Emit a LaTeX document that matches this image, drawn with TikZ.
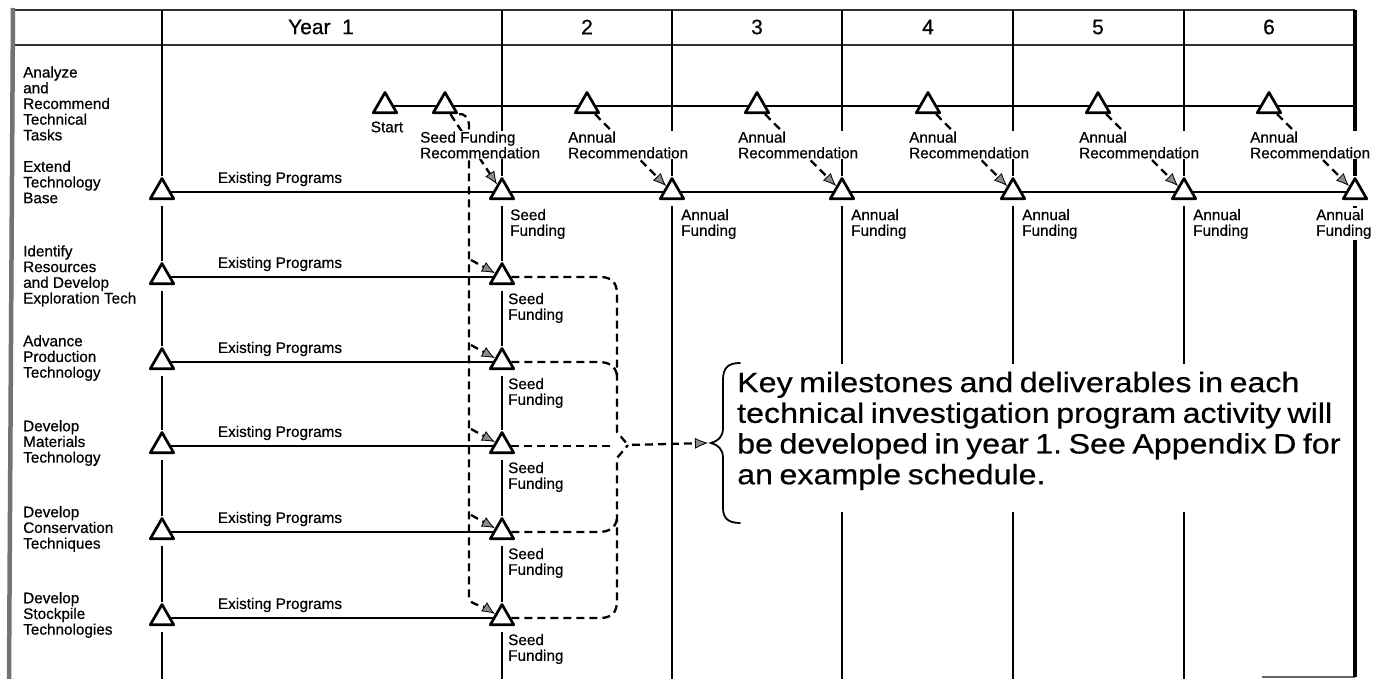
\documentclass[tikz,border=0pt]{standalone}
\usepackage{fontspec}
\setmainfont[FakeBold=0.4]{Liberation Sans}
\newfontfamily\lblfont[FakeBold=0.5]{Liberation Sans}
\newfontfamily\widefont[FakeStretch=1.15,FakeBold=0.5]{Liberation Sans}
\newcommand\notespacing{\spaceskip 6.5pt\relax}
\usetikzlibrary{shapes.geometric,arrows.meta}
\frenchspacing
\begin{document}
\begin{tikzpicture}[x=1pt,y=1pt,
  tri/.style={regular polygon, regular polygon sides=3, minimum size=27pt, inner sep=0pt, draw, line width=2.7pt, line join=round, fill=white},
  gline/.style={line width=2.2pt},
  bord/.style={line width=3.4pt},
  frm/.style={line width=2.8pt, black!80},
  lborder/.style={line width=4.5pt, black!55},
  dsh/.style={line width=2.3pt, dash pattern=on 8pt off 5pt},
  ahead/.style={-{Latex[length=13pt,width=11pt,fill=black!45,line width=0.8pt]}},
  lbl/.style={font=\lblfont\fontsize{15.3}{15.7}\selectfont, align=left, inner sep=1pt, fill=white},
  hdr/.style={font=\lblfont\fontsize{21}{24}\selectfont, inner sep=0pt},
  notebox/.style={font=\widefont\fontsize{28}{30.7}\selectfont\notespacing, align=left, fill=white, inner xsep=0pt, inner ysep=8pt}
]
\fill[white] (0,0) rectangle (1379,-679);
\useasboundingbox (0,0) rectangle (1379,-679);

% ---- triangles row 1 (recommendations)
\node[tri] (start) at (385,-106) {};
\node[tri] (srec) at (445,-106) {};
\node[tri] (rec2) at (587,-106) {};
\node[tri] (rec3) at (757,-106) {};
\node[tri] (rec4) at (928,-106) {};
\node[tri] (rec5) at (1098,-106) {};
\node[tri] (rec6) at (1269,-106) {};
% ---- row 2 (funding)
\node[tri] (e2) at (162,-192) {};
\node[tri] (fa) at (502,-192) {};
\node[tri] (fb) at (672,-192) {};
\node[tri] (fc) at (842,-192) {};
\node[tri] (fd) at (1013,-192) {};
\node[tri] (fe) at (1184,-192) {};
\node[tri] (ff) at (1355,-192) {};
% ---- rows 3-7
\node[tri] (e3) at (162,-277) {};
\node[tri] (s3) at (502,-277) {};
\node[tri] (e4) at (162,-362) {};
\node[tri] (s4) at (502,-362) {};
\node[tri] (e5) at (162,-446) {};
\node[tri] (s5) at (502,-446) {};
\node[tri] (e6) at (162,-532) {};
\node[tri] (s6) at (502,-532) {};
\node[tri] (e7) at (162,-618) {};
\node[tri] (s7) at (502,-618) {};

% ---- coordinates
\coordinate (topL) at (162,-10);  \coordinate (botL) at (162,-679);
\coordinate (topA) at (502,-10);  \coordinate (botA) at (502,-679);
\coordinate (topB) at (672,-10);  \coordinate (botB) at (672,-679);
\coordinate (topC) at (842,-10);  \coordinate (botC) at (842,-679);
\coordinate (topD) at (1013,-10); \coordinate (botD) at (1013,-679);
\coordinate (topE) at (1184,-10); \coordinate (botE) at (1184,-679);
\coordinate (topF) at (1355,-10); \coordinate (botF) at (1355,-677);
\coordinate (r1end) at (1355,-106);

% ---- frame
\draw[frm] (12,-10) -- (1355,-10);
\draw[frm] (12,-45) -- (1355,-45);
\draw[lborder] (13,-8) -- (9,-679);
\draw[line width=2pt, black!60] (1262,-677) -- (1355,-677);

% ---- verticals
\draw[gline] (topL) -- (e2);
\draw[gline, shorten <=6pt] (e2) -- (e3);
\draw[gline, shorten <=6pt] (e3) -- (e4);
\draw[gline, shorten <=6pt] (e4) -- (e5);
\draw[gline, shorten <=6pt] (e5) -- (e6);
\draw[gline, shorten <=6pt] (e6) -- (e7);
\draw[gline, shorten <=6pt] (e7) -- (botL);
\draw[gline] (topA) -- (fa);
\draw[gline, shorten <=6pt] (fa) -- (s3);
\draw[gline, shorten <=6pt] (s3) -- (s4);
\draw[gline, shorten <=6pt] (s4) -- (s5);
\draw[gline, shorten <=6pt] (s5) -- (s6);
\draw[gline, shorten <=6pt] (s6) -- (s7);
\draw[gline, shorten <=6pt] (s7) -- (botA);
\draw[gline] (topB) -- (fb);  \draw[gline, shorten <=6pt] (fb) -- (botB);
\draw[gline] (topC) -- (fc);  \draw[gline, shorten <=6pt] (fc) -- (botC);
\draw[gline] (topD) -- (fd);  \draw[gline, shorten <=6pt] (fd) -- (botD);
\draw[gline] (topE) -- (fe);  \draw[gline, shorten <=6pt] (fe) -- (botE);
\draw[bord] (topF) -- (ff);   \draw[bord, shorten <=6pt] (ff) -- (botF);

% ---- horizontals
\draw[gline] (start) -- (srec) -- (rec2) -- (rec3) -- (rec4) -- (rec5) -- (rec6) -- (r1end);
\draw[gline] (e2) -- (fa) -- (fb) -- (fc) -- (fd) -- (fe) -- (ff);
\draw[gline] (e3) -- (s3);
\draw[gline] (e4) -- (s4);
\draw[gline] (e5) -- (s5);
\draw[gline] (e6) -- (s6);
\draw[gline] (e7) -- (s7);

% ---- dashed arrows row 1 -> row 2
\draw[dsh, ahead] (srec) -- (fa);
\draw[dsh, ahead] (rec2) -- (fb);
\draw[dsh, ahead] (rec3) -- (fc);
\draw[dsh, ahead] (rec4) -- (fd);
\draw[dsh, ahead] (rec5) -- (fe);
\draw[dsh, ahead] (rec6) -- (ff);

% ---- seed funding distribution
\coordinate (vtop) at (469,-126);
\coordinate (vbot) at (469,-598);
\draw[dsh, ahead] (srec.corner 3) .. controls (463,-113) and (469,-117) .. (vtop) -- (vbot) .. controls (469,-604) and (483,-606) .. (s7.side 1);
\coordinate (v3) at (471,-260);
\coordinate (v4) at (471,-345);
\coordinate (v5) at (471,-429);
\coordinate (v6) at (471,-515);
\draw[dsh, ahead] (v3) -- (s3);
\draw[dsh, ahead] (v4) -- (s4);
\draw[dsh, ahead] (v5) -- (s5);
\draw[dsh, ahead] (v6) -- (s6);

% ---- dashed brace on the right of seed funding
\coordinate (dtip) at (628,-445);
\coordinate (btip) at (708,-443);
\draw[dsh] (s3) -- (600,-277) .. controls (611,-277) and (617,-282) .. (617,-294) -- (617,-432) -- (dtip);
\draw[dsh] (s7) -- (600,-618) .. controls (611,-618) and (617,-613) .. (617,-601) -- (617,-458) -- (dtip);
\draw[dsh] (s4) -- (598,-362) .. controls (609,-362) and (616,-366) .. (617,-376);
\draw[dsh] (s6) -- (598,-532) .. controls (609,-532) and (616,-528) .. (617,-518);
\draw[dsh] (s5) -- (610,-446);
\draw[dsh, ahead, shorten <=4pt] (dtip) -- (btip);

% ---- text brace
\draw[line width=1.8pt, line cap=round] (740,-363) .. controls (728,-363) and (723,-368) .. (723,-380) -- (723,-428) .. controls (723,-437) and (718,-441) .. (711,-443) .. controls (718,-445) and (723,-449) .. (723,-458) -- (723,-508) .. controls (723,-518) and (728,-523) .. (740,-523);

% ---- header texts
\node[hdr] (h1) at (321,-27) {Year\ \ 1};
\node[hdr] (h2) at (587,-27) {2};
\node[hdr] (h3) at (757,-27) {3};
\node[hdr] (h4) at (928,-27) {4};
\node[hdr] (h5) at (1098,-27) {5};
\node[hdr] (h6) at (1269,-27) {6};

% ---- row labels
\node[lbl, anchor=west] (l1) at (22,-103.5) {Analyze\\and\\Recommend\\Technical\\Tasks};
\node[lbl, anchor=west] (l2) at (22,-182) {Extend\\Technology\\Base};
\node[lbl, anchor=west] (l3) at (22,-276) {Identify\\Resources\\and Develop\\Exploration Tech};
\node[lbl, anchor=west] (l4) at (22,-358) {Advance\\Production\\Technology};
\node[lbl, anchor=west] (l5) at (22,-443) {Develop\\Materials\\Technology};
\node[lbl, anchor=west] (l6) at (22,-529) {Develop\\Conservation\\Techniques};
\node[lbl, anchor=west] (l7) at (22,-615) {Develop\\Stockpile\\Technologies};

% ---- existing programs
\node[lbl] (x2) at (280,-179) {Existing Programs};
\node[lbl] (x3) at (280,-264) {Existing Programs};
\node[lbl] (x4) at (280,-349) {Existing Programs};
\node[lbl] (x5) at (280,-433) {Existing Programs};
\node[lbl] (x6) at (280,-519) {Existing Programs};
\node[lbl] (x7) at (280,-605) {Existing Programs};

% ---- recommendation labels
\node[lbl] (tstart) at (387,-127) {Start};
\node[lbl, anchor=west] (tsrec) at (419,-145) {Seed Funding\\Recommendation};
\node[lbl, anchor=west] (trec2) at (567,-145) {Annual\\Recommendation};
\node[lbl, anchor=west] (trec3) at (737,-145) {Annual\\Recommendation};
\node[lbl, anchor=west] (trec4) at (908,-145) {Annual\\Recommendation};
\node[lbl, anchor=west] (trec5) at (1078,-145) {Annual\\Recommendation};
\node[lbl, anchor=west] (trec6) at (1249,-145) {Annual\\Recommendation};

% ---- funding labels
\node[lbl, anchor=west] (tfa) at (509,-224) {Seed\\Funding};
\node[lbl, anchor=west] (tfb) at (680,-224) {Annual\\Funding};
\node[lbl, anchor=west] (tfc) at (850,-224) {Annual\\Funding};
\node[lbl, anchor=west] (tfd) at (1021,-224) {Annual\\Funding};
\node[lbl, anchor=west] (tfe) at (1192,-224) {Annual\\Funding};
\node[lbl, anchor=west] (tff) at (1315,-224) {Annual\\Funding};
\node[lbl, anchor=west] (ts3) at (507,-308) {Seed\\Funding};
\node[lbl, anchor=west] (ts4) at (507,-393) {Seed\\Funding};
\node[lbl, anchor=west] (ts5) at (507,-477) {Seed\\Funding};
\node[lbl, anchor=west] (ts6) at (507,-563) {Seed\\Funding};
\node[lbl, anchor=west] (ts7) at (507,-649) {Seed\\Funding};

% ---- note
\node[notebox, anchor=west] (note) at (737,-438) {Key milestones and deliverables in each\\technical investigation program activity will\\be developed in year 1. See Appendix D for\\an example schedule.\rule[-20pt]{0pt}{1pt}};
\end{tikzpicture}
\end{document}
